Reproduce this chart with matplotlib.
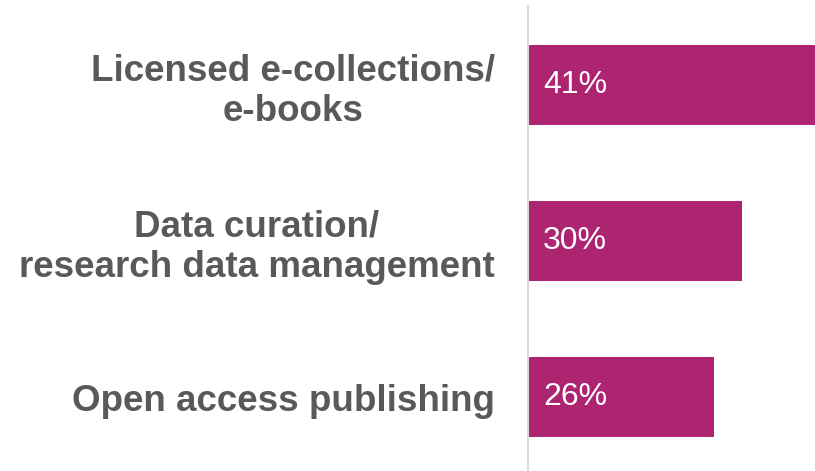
import matplotlib.pyplot as plt

categories = ['Licensed e-collections/\ne-books',
              'Data curation/\nresearch data management',
              'Open access publishing']
values = [41, 30, 26]
value_labels = ['41%', '30%', '26%']

bar_color = '#AD2470'
label_color = '#595959'

plt.rcParams['font.family'] = ['Liberation Sans', 'DejaVu Sans']

fig = plt.figure(figsize=(8.15, 4.71), dpi=100)
# axes placed so that the left spine sits where the reference divider is
ax = fig.add_axes([528 / 815, 0, 287 / 815, 465 / 471])

y = range(len(categories))
ax.barh(y, values, height=0.513, color=bar_color)

for i, (v, lab) in enumerate(zip(values, value_labels)):
    ax.text(2.1, i, lab, color='white', fontsize=23, va='center', ha='left')

ax.set_xlim(0, 40.15)
ax.set_ylim(2.474, -0.506)

ax.set_yticks(list(y))
ax.set_yticklabels(categories, fontsize=26.5, fontweight='bold',
                   color=label_color, multialignment='center',
                   linespacing=1.2)
ax.tick_params(axis='y', length=0, pad=24)
ax.set_xticks([])

for side in ['top', 'right', 'bottom']:
    ax.spines[side].set_visible(False)
ax.spines['left'].set_color('#D9D9D9')
ax.spines['left'].set_linewidth(1.5)

fig.savefig('out.png', dpi=100)
plt.close()
